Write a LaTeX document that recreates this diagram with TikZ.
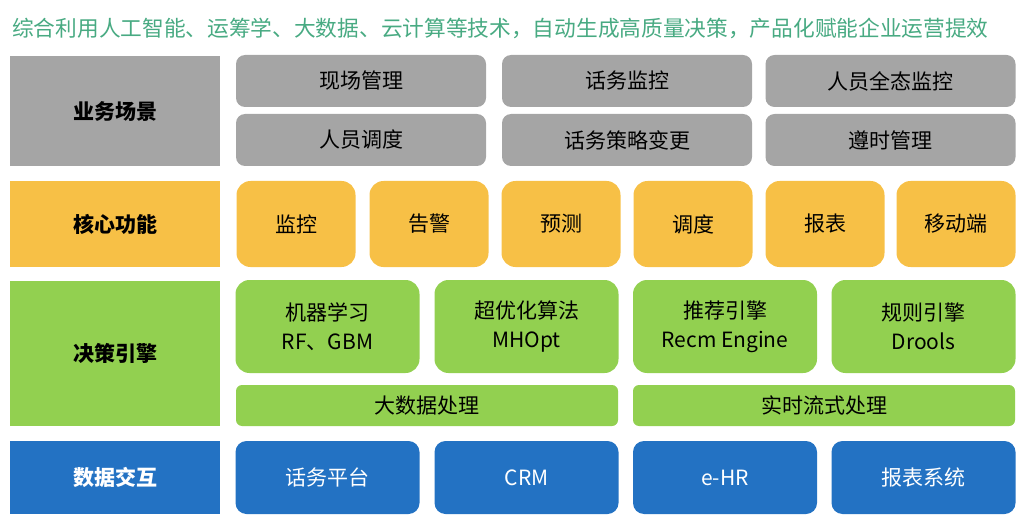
\documentclass[tikz,border=0pt]{standalone}
\usepackage{fontspec}
\setmainfont{Noto Sans CJK SC}
\definecolor{TitleGreen}{RGB}{72, 170, 130}
\definecolor{SceneGray}{RGB}{165, 165, 165}
\definecolor{CoreAmber}{RGB}{247, 192, 70}
\definecolor{EngineGreen}{RGB}{146, 208, 80}
\definecolor{DataBlue}{RGB}{35, 114, 195}
\usetikzlibrary{positioning}

\begin{document}
\begin{tikzpicture}[x=1pt, y=-1pt,
    every node/.style={font=\fontsize{21pt}{29pt}\selectfont, inner sep=0pt},
    layer/.style={rectangle, minimum width=210pt, font=\fontsize{21pt}{29pt}\selectfont\bfseries},
    item/.style={rectangle, rounded corners=9pt, align=center},
    scene/.style={item, fill=SceneGray, minimum width=250pt, minimum height=52pt},
    core/.style={item, rounded corners=14pt, fill=CoreAmber, minimum width=119pt, minimum height=86pt},
    engine/.style={item, rounded corners=14pt, fill=EngineGreen, minimum width=184pt, minimum height=93pt},
    stream/.style={item, rounded corners=6pt, fill=EngineGreen, minimum width=382pt, minimum height=41pt},
    data/.style={item, rounded corners=11pt, fill=DataBlue, text=white, minimum width=184pt, minimum height=73pt}]
    \useasboundingbox (0,0) rectangle (1023,524);

    % title
    \node[anchor=west, text=TitleGreen, font=\fontsize{21.7pt}{26pt}\selectfont] (title) at (12,28) {综合利用人工智能、运筹学、大数据、云计算等技术，自动生成高质量决策，产品化赋能企业运营提效};

    % business scenes
    \node[layer, fill=SceneGray, minimum height=110pt] (scene) at (115,111) {业务场景};
    \node[scene] (field) at (361,81) {现场管理};
    \node[scene] (callmon) at (627,81) {话务监控};
    \node[scene] (staffmon) at (890.5,81) {人员全态监控};
    \node[scene] (staffsched) at (361,140) {人员调度};
    \node[scene] (callpol) at (627,140) {话务策略变更};
    \node[scene] (punct) at (890.5,140) {遵时管理};

    % core functions
    \node[layer, fill=CoreAmber, minimum height=86pt] (core) at (115,224) {核心功能};
    \node[core] (monitor) at (296,224) {监控};
    \node[core] (alarm) at (429,224) {告警};
    \node[core] (predict) at (561,224) {预测};
    \node[core] (dispatch) at (693,224) {调度};
    \node[core] (report) at (825,224) {报表};
    \node[core] (mobile) at (956,224) {移动端};

    % decision engines
    \node[layer, fill=EngineGreen, minimum height=145pt] (engine) at (115,353.5) {决策引擎};
    \node[engine] (ml) at (327.5,326.5) {机器学习\\RF、GBM};
    \node[engine] (opt) at (526.5,326.5) {超优化算法\\MHOpt};
    \node[engine] (recm) at (725,326.5) {推荐引擎\\Recm Engine};
    \node[engine] (rules) at (923.5,326.5) {规则引擎\\Drools};
    \node[stream] (bigdata) at (427,405.5) {大数据处理};
    \node[stream] (realtime) at (824,405.5) {实时流式处理};

    % data exchange
    \node[layer, fill=DataBlue, text=white, minimum height=73pt] (data) at (115,477.5) {数据交互};
    \node[data] (callplat) at (327.5,477.5) {话务平台};
    \node[data] (crm) at (526.5,477.5) {CRM};
    \node[data] (ehr) at (725,477.5) {e-HR};
    \node[data] (reportsys) at (923.5,477.5) {报表系统};
\end{tikzpicture}
\end{document}
